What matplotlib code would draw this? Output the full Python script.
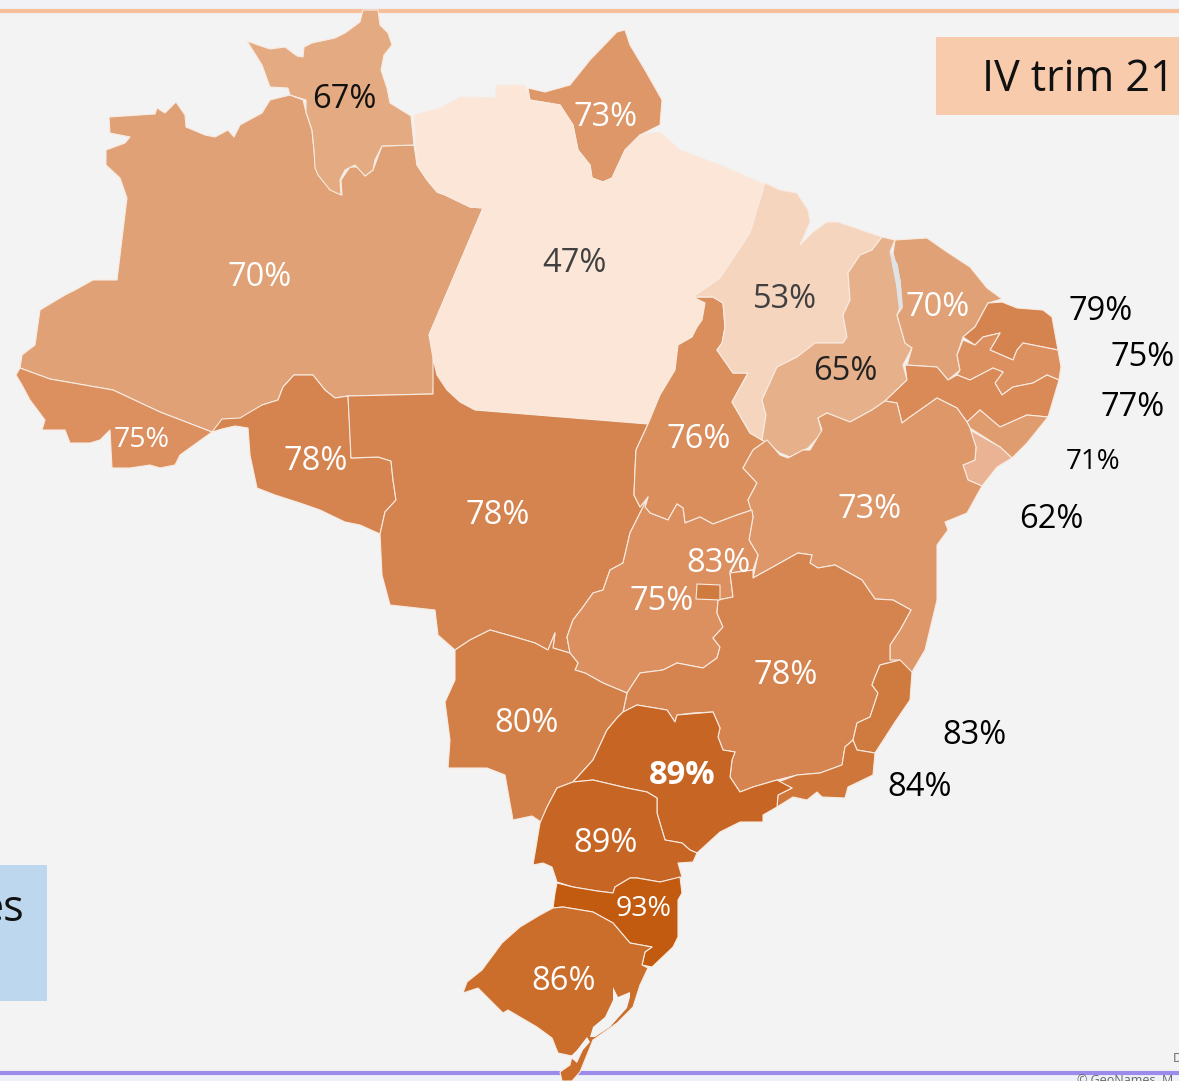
import matplotlib
matplotlib.use("Agg")
import matplotlib.pyplot as plt
from matplotlib.patches import Polygon, Rectangle

plt.rcParams['font.family'] = ['Open Sans', 'DejaVu Sans']

# ---- data ----
states = ["AM","RR","AP","PA","AC","RO","MT","TO","MA","PI","CE","RN","PB","PE","AL","SE","BA","GO","MG","ES","RJ","MS","SP","PR","SC","RS","DF"]
values = [70,67,73,47,75,78,78,76,53,65,70,79,75,77,71,62,73,75,78,83,84,80,89,89,93,86,83]
fills = ["#dfa175","#e4aa81","#dd9769","#fce6d8","#dc9060","#d5844f","#d5844f","#d98e5c","#f6d5bf","#e6b08a","#dfa175",
         "#d5844f","#dc9060","#d98a57","#df9c6e","#e9b394","#dd9769","#dc9060","#d5844f","#cf7a3e","#cf773a","#d28047",
         "#c76524","#c76524","#c25a0f","#cb6d2b","#cf7a3e"]
label_xy = [(260,278),(344,100),(606,118),(574,264),(142,440),(316,462),(498,516),(699,439),(785,299),(845,372),(938,308),
            (1101,311),(1143,357),(1133,408),(1093,462),(1051,520),(870,510),(662,602),(786,675),(974,735),(920,788),
            (527,723),(682,775),(606,843),(644,909),(564,981),(718,564)]
label_col = ["white","#111111","white","#404040","white","white","white","white","#404040","#222222","white",
             "black","black","black","black","black","white","white","white","black","black","white","white","white","white","white","white"]
label_size = {"RN":23.5,"PB":23.5,"PE":23.5,"AL":20,"SE":23.5,"SC":20.5,"AC":20.5}

# outlines, in reference pixel space
shapes = {
"AM":[(109,117),(155,114),(157,108),(165,113),(176,102),(185,115),(186,127),(205,135),(215,137),(228,130),(234,137),(240,125),(262,113),(270,100),(290,95),(303,100),(306,112),(312,130),(314,150),(316,170),(330,188),(342,195),(341,180),(350,167),(358,167),(365,176),(373,170),(382,146),(414,145),(417,165),(427,180),(437,192),(445,195),(470,207),(483,208),(429,335),(437,355),(434,380),(433,394),(348,396),(335,398),(325,390),(313,375),(294,375),(283,387),(278,400),(262,405),(255,418),(240,420),(212,432),(160,412),(113,390),(50,379),(20,368),(22,355),(35,345),(40,310),(65,295),(75,290),(93,280),(117,280),(127,198),(120,178),(106,165),(106,150),(125,143),(130,137),(110,133)],
"RR":[(247,41),(258,45),(270,49),(285,47),(297,56),(303,57),(304,47),(312,43),(335,38),(345,33),(360,22),(363,10),(378,10),(380,25),(388,33),(392,45),(384,55),(381,70),(387,88),(390,103),(411,116),(414,145),(382,146),(375,160),(373,170),(365,176),(355,165),(345,170),(340,180),(341,195),(330,190),(318,175),(315,168),(314,150),(312,130),(306,112),(306,100),(290,95),(288,88),(270,87),(262,65)],
"AP":[(528,88),(545,92),(570,85),(590,60),(617,32),(625,30),(630,45),(645,70),(662,100),(660,125),(640,135),(625,150),(612,178),(603,182),(592,178),(590,165),(578,150),(573,125),(560,105),(530,100)],
"PA":[(414,115),(440,108),(460,97),(495,98),(497,85),(525,85),(530,100),(560,105),(573,125),(578,150),(590,165),(592,178),(603,182),(612,178),(625,150),(640,135),(660,132),(680,150),(720,165),(766,185),(750,235),(720,278),(693,297),(705,303),(702,320),(697,327),(692,337),(678,345),(675,370),(660,395),(648,424),(475,410),(460,402),(447,390),(437,375),(433,358),(429,335),(483,208),(470,207),(445,195),(437,192),(427,180),(417,165)],
"AC":[(20,368),(50,379),(113,390),(160,412),(212,432),(180,455),(175,465),(160,468),(150,465),(130,468),(112,468),(110,430),(100,440),(90,443),(70,443),(65,430),(42,430),(45,420),(30,400),(22,385),(16,375)],
"RO":[(212,432),(222,419),(240,418),(250,412),(262,405),(278,400),(283,387),(294,375),(313,375),(325,390),(335,398),(348,396),(350,430),(351,458),(378,457),(391,461),(393,480),(396,500),(385,512),(380,534),(360,525),(345,522),(320,510),(300,503),(275,495),(257,488),(250,455),(248,428),(235,426),(222,429)],
"MT":[(433,358),(437,375),(447,390),(460,402),(475,410),(648,424),(636,450),(635,470),(634,495),(640,507),(648,497),(630,533),(623,563),(610,570),(603,590),(593,593),(583,607),(573,620),(567,637),(570,653),(553,648),(555,633),(548,650),(535,643),(515,637),(490,630),(470,640),(455,650),(438,635),(435,610),(390,605),(382,575),(380,534),(385,512),(396,500),(393,480),(391,461),(378,457),(351,458),(348,396),(433,394)],
"TO":[(693,297),(713,297),(723,303),(725,327),(722,343),(717,350),(733,373),(748,373),(732,402),(750,433),(762,440),(767,440),(753,450),(743,468),(757,483),(748,500),(752,510),(737,515),(713,524),(700,517),(685,523),(683,508),(677,504),(668,520),(650,513),(645,507),(648,497),(640,507),(634,495),(635,470),(636,450),(648,424),(660,395),(675,370),(678,345),(692,337),(697,327),(702,320),(705,303)],
"MA":[(765,183),(780,190),(797,193),(808,210),(810,222),(800,245),(813,232),(827,222),(838,222),(870,233),(882,237),(872,250),(860,255),(848,273),(850,300),(843,315),(847,337),(843,343),(815,343),(797,357),(777,367),(762,400),(766,415),(762,440),(750,433),(732,402),(748,373),(733,373),(717,350),(722,343),(725,327),(723,303),(713,297),(693,297),(720,278),(750,233)],
"PI":[(882,237),(895,240),(890,252),(897,280),(900,308),(897,315),(905,343),(912,348),(903,365),(907,380),(885,401),(872,410),(850,422),(827,413),(818,418),(822,433),(808,448),(790,457),(780,453),(766,442),(762,440),(766,415),(762,400),(777,367),(797,357),(815,343),(843,343),(847,337),(843,315),(850,300),(848,273),(860,255),(872,250)],
"CE":[(895,240),(927,238),(947,252),(970,267),(987,288),(1002,299),(988,303),(975,327),(963,337),(957,355),(960,370),(948,380),(937,367),(907,365),(912,348),(905,343),(897,315),(902,308),(900,280),(893,253)],
"RN":[(1002,302),(1017,308),(1043,310),(1052,317),(1058,350),(1023,343),(1017,350),(1013,360),(990,350),(1000,333),(983,337),(975,345),(963,337),(975,327),(988,303)],
"PB":[(963,340),(975,345),(983,337),(1000,333),(990,350),(1013,360),(1017,350),(1023,343),(1058,350),(1061,367),(1059,380),(1047,375),(1033,383),(1013,387),(1002,395),(995,383),(1003,372),(993,368),(970,380),(957,375),(960,370),(957,355)],
"PE":[(905,365),(937,367),(948,380),(957,375),(970,380),(993,368),(1003,372),(995,383),(1002,395),(1013,387),(1033,383),(1047,375),(1059,380),(1048,417),(1027,415),(1000,427),(980,410),(967,422),(957,408),(937,398),(910,417),(902,423),(897,403),(885,401),(907,380)],
"AL":[(967,422),(980,410),(1000,427),(1027,415),(1048,417),(1027,443),(1012,458),(1000,447),(970,428)],
"SE":[(970,430),(1000,447),(1012,458),(997,467),(982,486),(968,480),(963,465),(975,460),(976,447)],
"BA":[(885,401),(897,403),(902,423),(910,417),(937,398),(957,408),(967,422),(970,428),(976,447),(975,460),(963,465),(968,480),(982,486),(967,513),(945,522),(948,530),(937,545),(937,600),(925,650),(912,672),(890,660),(890,645),(900,630),(911,610),(893,600),(875,599),(862,580),(835,565),(818,568),(810,563),(812,555),(798,553),(780,563),(753,578),(758,555),(749,540),(753,517),(748,500),(757,483),(743,468),(753,450),(767,440),(780,455),(788,458),(803,450),(810,450),(822,430),(818,418),(827,413),(850,422),(872,410)],
"GO":[(648,497),(645,507),(650,513),(668,520),(677,504),(683,508),(685,523),(700,517),(713,524),(737,515),(752,510),(753,517),(749,540),(758,555),(753,570),(730,573),(733,597),(718,600),(717,613),(723,627),(713,638),(720,647),(717,658),(703,668),(677,663),(663,670),(640,673),(627,693),(603,683),(585,673),(575,670),(578,663),(570,653),(567,637),(573,620),(583,607),(593,593),(603,590),(610,570),(623,563),(630,533)],
"MG":[(753,578),(780,563),(798,553),(812,555),(810,563),(818,568),(835,565),(862,580),(875,599),(893,600),(911,610),(900,630),(890,645),(890,660),(900,660),(880,665),(875,677),(872,685),(878,693),(870,717),(857,723),(853,740),(845,747),(842,765),(820,773),(797,775),(777,780),(753,787),(740,792),(730,777),(732,760),(735,752),(723,750),(718,737),(720,728),(713,712),(693,713),(677,715),(675,722),(667,710),(637,705),(623,712),(627,693),(640,673),(663,670),(677,663),(703,668),(717,658),(720,647),(713,638),(723,627),(717,613),(718,600),(733,597),(730,573),(753,570)],
"ES":[(900,660),(912,672),(910,700),(895,722),(875,753),(857,750),(853,740),(857,723),(870,717),(878,693),(872,685),(875,677),(880,665)],
"RJ":[(853,740),(857,750),(875,753),(873,775),(848,787),(845,798),(822,797),(817,792),(807,800),(793,797),(777,807),(778,795),(792,788),(778,782),(797,775),(820,773),(842,765),(845,747)],
"MS":[(455,650),(470,640),(490,630),(515,637),(535,643),(548,650),(555,633),(553,648),(570,653),(578,663),(575,670),(585,673),(603,683),(627,693),(623,712),(617,718),(607,730),(593,760),(573,782),(557,788),(547,807),(541,822),(532,816),(513,820),(505,775),(487,768),(448,768),(450,740),(445,702),(455,680)],
"SP":[(623,712),(637,705),(667,710),(675,722),(677,715),(713,712),(720,728),(718,737),(723,750),(735,752),(732,760),(730,777),(740,792),(753,787),(777,780),(792,788),(778,795),(777,807),(763,815),(763,822),(740,822),(720,832),(697,853),(690,850),(682,843),(665,840),(657,813),(657,798),(647,792),(627,788),(593,780),(573,782),(593,760),(607,730),(617,718)],
"PR":[(573,782),(593,780),(627,788),(647,792),(657,798),(657,813),(665,840),(682,843),(690,850),(697,853),(693,862),(678,863),(682,877),(660,882),(637,878),(630,878),(615,887),(613,893),(597,891),(573,887),(557,882),(552,867),(543,863),(533,865),(540,823),(547,807),(557,788)],
"SC":[(557,883),(573,887),(597,891),(613,893),(615,887),(630,878),(637,878),(660,882),(680,877),(682,893),(678,900),(678,937),(673,947),(652,967),(642,965),(645,952),(652,947),(630,943),(613,923),(593,912),(563,907),(553,908),(555,893)],
"RS":[(553,908),(563,907),(593,912),(613,923),(630,943),(652,947),(645,952),(642,965),(648,968),(640,985),(633,1007),(617,1023),(593,1040),(580,1072),(572,1081),(562,1081),(560,1072),(570,1065),(572,1056),(558,1053),(552,1038),(537,1027),(508,1010),(503,1013),(478,988),(463,993),(467,982),(482,970),(502,943),(520,927),(540,915)],
"DF":[(697,584),(720,585),(720,600),(696,599)],
}
lagoon = [(613,987),(618,997),(630,992),(630,997),(627,1008),(610,1027),(595,1037),(590,1037),(593,1027),(605,1017),(613,1000)]
lagoon_south = [(587,1037),(577,1050),(570,1057),(577,1063),(583,1050),(590,1042)]
parnaiba = [(890,250),(898,265),(901,285),(903,307),(899,310),(896,285),(892,265)]

BG = "#f3f3f3"
fig = plt.figure(figsize=(11.79, 10.81), dpi=100, facecolor=BG)
ax = fig.add_axes([0, 0, 1, 1])
ax.set_xlim(0, 1179)
ax.set_ylim(1081, 0)
ax.axis("off")

# slide furniture
ax.add_patch(Rectangle((0, 0), 1179, 11, fc="#f0f2f7", ec="none", zorder=0))
ax.add_patch(Rectangle((0, 1075), 1179, 6, fc="#eef2f8", ec="none", zorder=0))
ax.plot([0, 1179], [11, 11], color="#f8c09a", lw=3, zorder=1, solid_capstyle="butt")
ax.plot([0, 1179], [1073, 1073], color="#9b8bea", lw=3, zorder=1, solid_capstyle="butt")

for code, col in zip(states, fills):
    ax.add_patch(Polygon(shapes[code], closed=True, fc=col, ec="#f8ebe2", lw=0.8, joinstyle="round", zorder=2))
ax.add_patch(Polygon(lagoon, closed=True, fc=BG, ec="none", zorder=3))
ax.add_patch(Polygon(lagoon_south, closed=True, fc=BG, ec="none", zorder=3))
ax.add_patch(Polygon(parnaiba, closed=True, fc="#e0e3e6", ec="none", zorder=3))

for code, v, (x, y), c in zip(states, values, label_xy, label_col):
    ax.text(x, y, f"{v}%", color=c, ha="center", va="center", fontsize=label_size.get(code, 23.5),
            fontweight="bold" if code == "SP" else "normal", zorder=5)

ax.add_patch(Rectangle((936, 37), 243, 78, fc="#f8cbad", ec="none", zorder=4))
ax.text(1175, 80, "IV trim 21", color="#111111", ha="right", va="center", fontsize=31, zorder=5)
ax.add_patch(Rectangle((0, 865), 47, 136, fc="#bdd7ee", ec="none", zorder=4))
ax.text(24, 910, "es", color="#111111", ha="right", va="center", fontsize=31, zorder=5)
ax.text(1173, 1059, "D", color="#666666", ha="left", va="center", fontsize=9, zorder=5)
ax.text(1077, 1080, "© GeoNames, M", color="#666666", ha="left", va="center", fontsize=9, zorder=5)

fig.savefig("out.png", dpi=100, facecolor=BG)
